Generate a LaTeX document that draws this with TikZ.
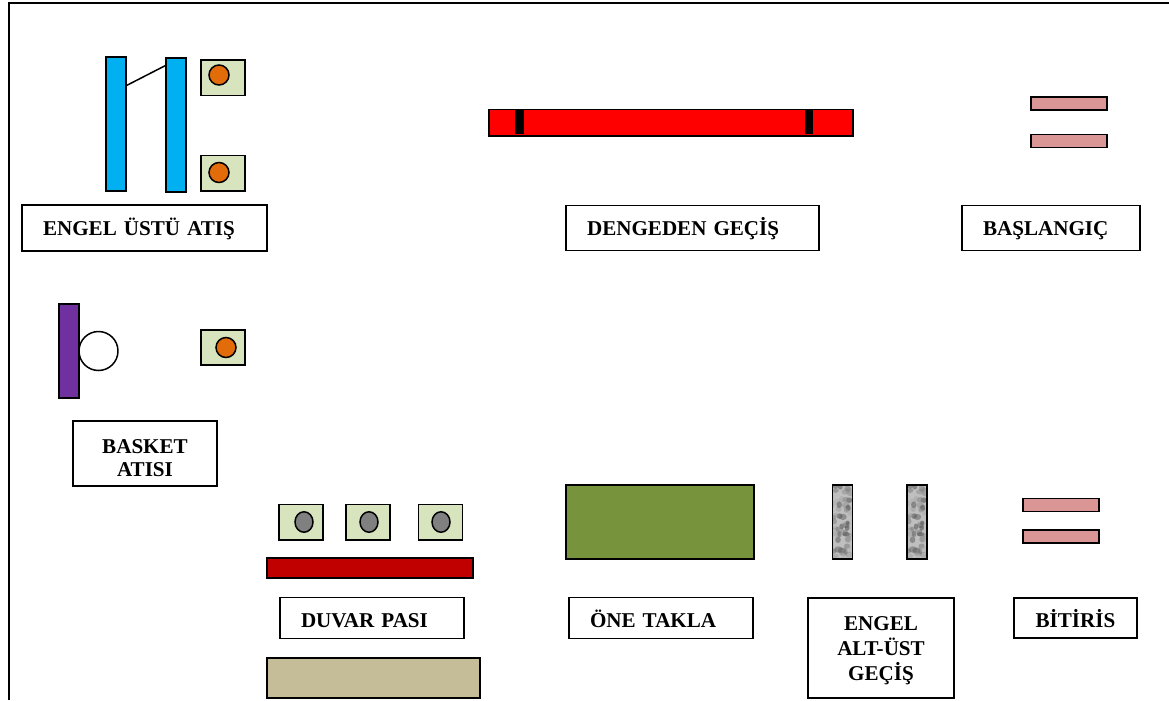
\documentclass[tikz,border=0pt]{standalone}
\usepackage{fontspec}
\setmainfont{Liberation Serif}
\usetikzlibrary{shapes.geometric,positioning,calc}

\definecolor{hurdleblue}{HTML}{00B0F0}
\definecolor{ballorange}{HTML}{E36C0A}
\definecolor{padgreen}{HTML}{D7E4BD}
\definecolor{startpink}{HTML}{D99694}
\definecolor{hoopviolet}{HTML}{7030A0}
\definecolor{wallred}{HTML}{C00000}
\definecolor{walltan}{HTML}{C4BD97}
\definecolor{matgreen}{HTML}{77933C}

\begin{document}
\begin{tikzpicture}[
  x=0.02cm, y=-0.02cm,
  every node/.style={line width=0.03cm, inner sep=0pt, outer sep=0pt},
  namebox/.style={rectangle, draw, align=center, font=\fontsize{12}{14.4}\selectfont\bfseries},
  leftbox/.style={namebox, align=left, inner xsep=0.42cm, text width=#1, text height=9pt, text depth=0pt},
  lowtext/.style={text height=11.2pt, text depth=0pt},
  bar/.style={rectangle, draw},
  hurdle/.style={bar, fill=hurdleblue, minimum width=0.4cm, minimum height=2.69cm},
  pad/.style={bar, fill=padgreen, minimum width=0.88cm, minimum height=0.71cm},
  ballo/.style={circle, draw, fill=ballorange, minimum size=0.4cm},
  ballg/.style={ellipse, draw, fill=gray, minimum width=0.36cm, minimum height=0.41cm},
  startbar/.style={bar, fill=startpink, minimum width=1.52cm, minimum height=0.26cm},
  stripe/.style={rectangle, fill=black, minimum width=0.17cm, minimum height=0.48cm},
  marble/.style={bar, fill=gray!50, minimum width=0.4cm, minimum height=1.48cm, path picture={
    \pgfmathsetseed{#1}
    \foreach \i in {1,...,60}{
      \pgfmathsetmacro{\shade}{20+rnd*55}
      \fill[black!\shade, opacity=0.5] ($(path picture bounding box.south west)+(rnd*0.4cm,rnd*1.48cm)$) circle[x radius=0.04cm+rnd*0.05cm, y radius=0.04cm+rnd*0.03cm];
    }}},
]

\useasboundingbox (0,0) rectangle (1169,700);
\fill[white] (0,0) rectangle (1169,700);

% === Frame ===
\draw[line width=0.04cm] (1169,2.5) -- (9,2.5) -- (9,700);

% === Engel ustu atis ===
\node[hurdle] (hurdleL) at (116,124) {};
\node[hurdle] (hurdleR) at (176,125) {};
\draw[line width=0.03cm] ([yshift=-0.58cm]hurdleL.north east) -- ([yshift=-0.15cm]hurdleR.north west);
\node[pad] (padA) at (223,77.5) {};
\node[ballo] (ballA) at (219,75) {};
\node[pad] (padB) at (223,173) {};
\node[ballo] (ballB) at (219,172.5) {};
\node[leftbox=4.06cm, minimum height=0.92cm] (nameEngel) at (144.5,228) {ENGEL ÜSTÜ ATIŞ};

% === Dengeden gecis ===
\node[bar, fill=red, minimum width=7.28cm, minimum height=0.53cm] (beam) at (671,122.5) {};
\node[stripe] (stripeL) at (519.5,122) {};
\node[stripe] (stripeR) at (809,122) {};
\node[leftbox=4.22cm, minimum height=0.9cm] (nameDenge) at (692.5,228) {DENGEDEN GEÇİŞ};

% === Baslangic ===
\node[startbar] (startA) at (1069,103.5) {};
\node[startbar] (startB) at (1069,141) {};
\node[leftbox=2.72cm, minimum height=0.9cm] (nameStart) at (1051,228) {BAŞLANGIÇ};

% === Basket atisi ===
\node[bar, fill=hoopviolet, minimum width=0.4cm, minimum height=1.88cm] (board) at (69,351) {};
\node[circle, draw, fill=white, minimum size=0.78cm, right=0pt of board] (hoop) {};
\node[pad, minimum height=0.7cm] (padC) at (223,347.5) {};
\node[ballo] (ballC) at (226,347.5) {};
\node[namebox, minimum width=2.88cm, minimum height=1.3cm] (nameBasket) at (145,453.5) {\rule{0pt}{13.6pt}BASKET\\[-1.2pt]ATISI};

% === Duvar pasi ===
\node[pad] (padD) at (301,522) {};
\node[ballg] (ballD) at (304,522) {};
\node[pad] (padE) at (368,522) {};
\node[ballg] (ballE) at (369,522) {};
\node[pad] (padF) at (440.5,522) {};
\node[ballg] (ballF) at (441,522) {};
\node[bar, fill=wallred, minimum width=4.13cm, minimum height=0.4cm] (wall) at (370,568) {};
\node[leftbox=2.84cm, lowtext, minimum height=0.82cm] (nameDuvar) at (372,618) {DUVAR PASI};
\node[bar, fill=walltan, minimum width=4.26cm, minimum height=0.8cm] (bench) at (373.5,678) {};

% === One takla ===
\node[bar, fill=matgreen, minimum width=3.76cm, minimum height=1.48cm] (mat) at (660,522) {};
\node[leftbox=2.84cm, lowtext, minimum height=0.82cm] (nameTakla) at (661,618) {ÖNE TAKLA};

% === Engel alt-ust gecis ===
\node[marble=7] (postL) at (842.5,522) {};
\node[marble=7] (postR) at (917,522) {};
\node[namebox, minimum width=2.92cm, minimum height=2cm] (nameAltUst) at (881,648) {\rule{0pt}{11pt}ENGEL\\ALT-ÜST\\GEÇİŞ};

% === Bitiris ===
\node[startbar] (endA) at (1061,505) {};
\node[startbar] (endB) at (1061,536.5) {};
\node[namebox, lowtext, minimum width=2.46cm, minimum height=0.8cm] (nameEnd) at (1075.5,618) {BİTİRİS};

\end{tikzpicture}
\end{document}
